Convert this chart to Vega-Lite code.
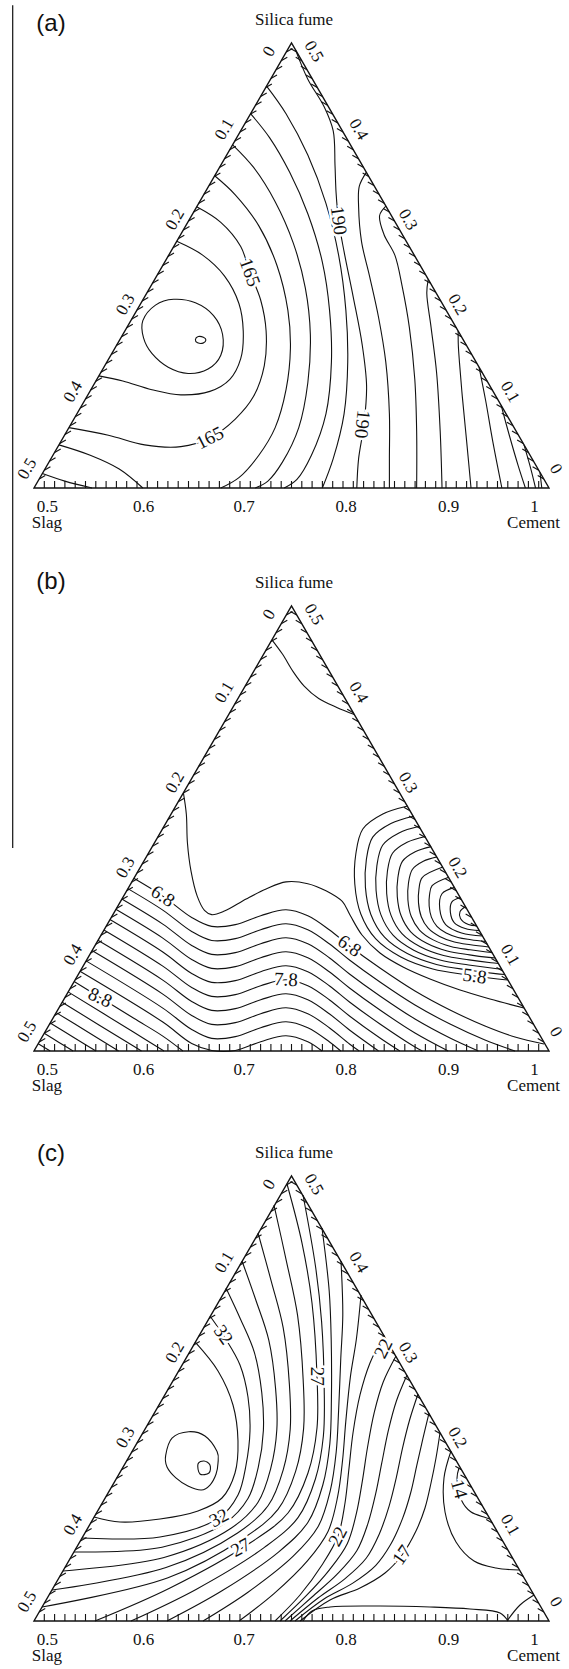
{
"$schema": "https://vega.github.io/schema/vega-lite/v6.json",
"padding": 0,
"spacing": 0,
"bounds": "flush",
"config": {"view": {"stroke": null}},
"datasets": {
"ed": [{"i":0,"x":0,"y":0},{"i":1,"x":1,"y":0},{"i":2,"x":0.5,"y":1}],
"tk": [
{"s":"b","x":0.02,"y":0},{"s":"b","x":0.04,"y":0},{"s":"b","x":0.06,"y":0},{"s":"b","x":0.08,"y":0},{"s":"b","x":0.1,"y":0},{"s":"b","x":0.12,"y":0},{"s":"b","x":0.14,"y":0},{"s":"b","x":0.16,"y":0},{"s":"b","x":0.18,"y":0},{"s":"b","x":0.2,"y":0},{"s":"b","x":0.22,"y":0},{"s":"b","x":0.24,"y":0},{"s":"b","x":0.26,"y":0},{"s":"b","x":0.28,"y":0},{"s":"b","x":0.3,"y":0},{"s":"b","x":0.32,"y":0},{"s":"b","x":0.34,"y":0},{"s":"b","x":0.36,"y":0},{"s":"b","x":0.38,"y":0},{"s":"b","x":0.4,"y":0},{"s":"b","x":0.42,"y":0},{"s":"b","x":0.44,"y":0},{"s":"b","x":0.46,"y":0},{"s":"b","x":0.48,"y":0},{"s":"b","x":0.5,"y":0},{"s":"b","x":0.52,"y":0},{"s":"b","x":0.54,"y":0},{"s":"b","x":0.56,"y":0},{"s":"b","x":0.58,"y":0},{"s":"b","x":0.6,"y":0},{"s":"b","x":0.62,"y":0},{"s":"b","x":0.64,"y":0},{"s":"b","x":0.66,"y":0},{"s":"b","x":0.68,"y":0},{"s":"b","x":0.7,"y":0},{"s":"b","x":0.72,"y":0},{"s":"b","x":0.74,"y":0},{"s":"b","x":0.76,"y":0},{"s":"b","x":0.78,"y":0},{"s":"b","x":0.8,"y":0},{"s":"b","x":0.82,"y":0},{"s":"b","x":0.84,"y":0},{"s":"b","x":0.86,"y":0},{"s":"b","x":0.88,"y":0},{"s":"b","x":0.9,"y":0},{"s":"b","x":0.92,"y":0},{"s":"b","x":0.94,"y":0},{"s":"b","x":0.96,"y":0},{"s":"b","x":0.98,"y":0},
{"s":"l","x":0.49,"y":0.98},{"s":"l","x":0.48,"y":0.96},{"s":"l","x":0.47,"y":0.94},{"s":"l","x":0.46,"y":0.92},{"s":"l","x":0.45,"y":0.9},{"s":"l","x":0.44,"y":0.88},{"s":"l","x":0.43,"y":0.86},{"s":"l","x":0.42,"y":0.84},{"s":"l","x":0.41,"y":0.82},{"s":"l","x":0.4,"y":0.8},{"s":"l","x":0.39,"y":0.78},{"s":"l","x":0.38,"y":0.76},{"s":"l","x":0.37,"y":0.74},{"s":"l","x":0.36,"y":0.72},{"s":"l","x":0.35,"y":0.7},{"s":"l","x":0.34,"y":0.68},{"s":"l","x":0.33,"y":0.66},{"s":"l","x":0.32,"y":0.64},{"s":"l","x":0.31,"y":0.62},{"s":"l","x":0.3,"y":0.6},{"s":"l","x":0.29,"y":0.58},{"s":"l","x":0.28,"y":0.56},{"s":"l","x":0.27,"y":0.54},{"s":"l","x":0.26,"y":0.52},{"s":"l","x":0.25,"y":0.5},{"s":"l","x":0.24,"y":0.48},{"s":"l","x":0.23,"y":0.46},{"s":"l","x":0.22,"y":0.44},{"s":"l","x":0.21,"y":0.42},{"s":"l","x":0.2,"y":0.4},{"s":"l","x":0.19,"y":0.38},{"s":"l","x":0.18,"y":0.36},{"s":"l","x":0.17,"y":0.34},{"s":"l","x":0.16,"y":0.32},{"s":"l","x":0.15,"y":0.3},{"s":"l","x":0.14,"y":0.28},{"s":"l","x":0.13,"y":0.26},{"s":"l","x":0.12,"y":0.24},{"s":"l","x":0.11,"y":0.22},{"s":"l","x":0.1,"y":0.2},{"s":"l","x":0.09,"y":0.18},{"s":"l","x":0.08,"y":0.16},{"s":"l","x":0.07,"y":0.14},{"s":"l","x":0.06,"y":0.12},{"s":"l","x":0.05,"y":0.1},{"s":"l","x":0.04,"y":0.08},{"s":"l","x":0.03,"y":0.06},{"s":"l","x":0.02,"y":0.04},{"s":"l","x":0.01,"y":0.02},
{"s":"r","x":0.99,"y":0.02},{"s":"r","x":0.98,"y":0.04},{"s":"r","x":0.97,"y":0.06},{"s":"r","x":0.96,"y":0.08},{"s":"r","x":0.95,"y":0.1},{"s":"r","x":0.94,"y":0.12},{"s":"r","x":0.93,"y":0.14},{"s":"r","x":0.92,"y":0.16},{"s":"r","x":0.91,"y":0.18},{"s":"r","x":0.9,"y":0.2},{"s":"r","x":0.89,"y":0.22},{"s":"r","x":0.88,"y":0.24},{"s":"r","x":0.87,"y":0.26},{"s":"r","x":0.86,"y":0.28},{"s":"r","x":0.85,"y":0.3},{"s":"r","x":0.84,"y":0.32},{"s":"r","x":0.83,"y":0.34},{"s":"r","x":0.82,"y":0.36},{"s":"r","x":0.81,"y":0.38},{"s":"r","x":0.8,"y":0.4},{"s":"r","x":0.79,"y":0.42},{"s":"r","x":0.78,"y":0.44},{"s":"r","x":0.77,"y":0.46},{"s":"r","x":0.76,"y":0.48},{"s":"r","x":0.75,"y":0.5},{"s":"r","x":0.74,"y":0.52},{"s":"r","x":0.73,"y":0.54},{"s":"r","x":0.72,"y":0.56},{"s":"r","x":0.71,"y":0.58},{"s":"r","x":0.7,"y":0.6},{"s":"r","x":0.69,"y":0.62},{"s":"r","x":0.68,"y":0.64},{"s":"r","x":0.67,"y":0.66},{"s":"r","x":0.66,"y":0.68},{"s":"r","x":0.65,"y":0.7},{"s":"r","x":0.64,"y":0.72},{"s":"r","x":0.63,"y":0.74},{"s":"r","x":0.62,"y":0.76},{"s":"r","x":0.61,"y":0.78},{"s":"r","x":0.6,"y":0.8},{"s":"r","x":0.59,"y":0.82},{"s":"r","x":0.58,"y":0.84},{"s":"r","x":0.57,"y":0.86},{"s":"r","x":0.56,"y":0.88},{"s":"r","x":0.55,"y":0.9},{"s":"r","x":0.54,"y":0.92},{"s":"r","x":0.53,"y":0.94},{"s":"r","x":0.52,"y":0.96},{"s":"r","x":0.51,"y":0.98}
],
"tl": [
{"s":"b","t":"0.5","x":0.026,"y":-0.055},{"s":"b","t":"0.6","x":0.213,"y":-0.055},{"s":"b","t":"0.7","x":0.408,"y":-0.055},{"s":"b","t":"0.8","x":0.606,"y":-0.055},{"s":"b","t":"0.9","x":0.805,"y":-0.055},{"s":"b","t":"1","x":0.972,"y":-0.055},
{"s":"l","t":"0","x":0.457,"y":0.981},{"s":"l","t":"0.1","x":0.37,"y":0.806},{"s":"l","t":"0.2","x":0.274,"y":0.603},{"s":"l","t":"0.3","x":0.178,"y":0.412},{"s":"l","t":"0.4","x":0.076,"y":0.216},{"s":"l","t":"0.5","x":-0.013,"y":0.043},
{"s":"r","t":"0.5","x":0.543,"y":0.981},{"s":"r","t":"0.4","x":0.63,"y":0.806},{"s":"r","t":"0.3","x":0.726,"y":0.603},{"s":"r","t":"0.2","x":0.822,"y":0.412},{"s":"r","t":"0.1","x":0.924,"y":0.216},{"s":"r","t":"0","x":1.013,"y":0.043}
],
"nm": [{"t":"Silica fume","x":0.505,"y":1.04},{"t":"Slag","x":0.025,"y":-0.091},{"t":"Cement","x":0.97,"y":-0.091}],
"al": [
{"c":"L3","i":0,"x":0.2771,"y":0.5543},{"c":"L3","i":1,"x":0.3275,"y":0.5233},{"c":"L3","i":2,"x":0.3697,"y":0.4767},{"c":"L3","i":3,"x":0.3979,"y":0.4147},{"c":"L3","i":4,"x":0.4063,"y":0.3527},{"c":"L3","i":5,"x":0.4014,"y":0.2907},{"c":"L3","i":6,"x":0.3803,"y":0.2442},{"c":"L3","i":7,"x":0.3415,"y":0.2171},{"c":"L3","i":8,"x":0.2852,"y":0.2093},{"c":"L3","i":9,"x":0.2289,"y":0.2209},{"c":"L3","i":10,"x":0.1725,"y":0.2403},{"c":"L3","i":11,"x":0.126,"y":0.2519},
{"c":"165","i":0,"x":0.3159,"y":0.6318},{"c":"165","i":1,"x":0.3627,"y":0.5969},{"c":"165","i":2,"x":0.4014,"y":0.5426},{"c":"165","i":3,"x":0.419,"y":0.4845},{"c":"165","i":4,"x":0.4401,"y":0.4225},{"c":"165","i":5,"x":0.4507,"y":0.3527},{"c":"165","i":6,"x":0.4472,"y":0.2752},{"c":"165","i":7,"x":0.4261,"y":0.2054},{"c":"165","i":8,"x":0.3908,"y":0.155},{"c":"165","i":9,"x":0.3415,"y":0.1124},{"c":"165","i":10,"x":0.2852,"y":0.093},{"c":"165","i":11,"x":0.2148,"y":0.0969},{"c":"165","i":12,"x":0.1444,"y":0.1186},{"c":"165","i":13,"x":0.0678,"y":0.1357},
{"c":"170","i":0,"x":0.3508,"y":0.7016},{"c":"170","i":1,"x":0.3908,"y":0.6589},{"c":"170","i":2,"x":0.4366,"y":0.5891},{"c":"170","i":3,"x":0.4718,"y":0.5},{"c":"170","i":4,"x":0.493,"y":0.3992},{"c":"170","i":5,"x":0.4979,"y":0.314},{"c":"170","i":6,"x":0.4894,"y":0.2209},{"c":"170","i":7,"x":0.4683,"y":0.1357},{"c":"170","i":8,"x":0.4366,"y":0.0736},{"c":"170","i":9,"x":0.3979,"y":0.0233},{"c":"170","i":10,"x":0.3627,"y":0},
{"c":"170b","i":0,"x":0.0484,"y":0.0969},{"c":"170b","i":1,"x":0.1092,"y":0.0736},{"c":"170b","i":2,"x":0.1655,"y":0.0426},{"c":"170b","i":3,"x":0.2113,"y":0},
{"c":"175b","i":0,"x":0.0163,"y":0.0326},{"c":"175b","i":1,"x":0.0599,"y":0.0155},{"c":"175b","i":2,"x":0.1127,"y":0},
{"c":"175","i":0,"x":0.3857,"y":0.7713},{"c":"175","i":1,"x":0.4261,"y":0.7209},{"c":"175","i":2,"x":0.4683,"y":0.6434},{"c":"175","i":3,"x":0.5035,"y":0.5504},{"c":"175","i":4,"x":0.5268,"y":0.4496},{"c":"175","i":5,"x":0.5366,"y":0.345},{"c":"175","i":6,"x":0.5317,"y":0.2364},{"c":"175","i":7,"x":0.5141,"y":0.1357},{"c":"175","i":8,"x":0.4824,"y":0.0581},{"c":"175","i":9,"x":0.4542,"y":0.0155},{"c":"175","i":10,"x":0.4296,"y":0},
{"c":"180","i":0,"x":0.4205,"y":0.8411},{"c":"180","i":1,"x":0.4577,"y":0.7868},{"c":"180","i":2,"x":0.4965,"y":0.7093},{"c":"180","i":3,"x":0.5317,"y":0.6163},{"c":"180","i":4,"x":0.5599,"y":0.5078},{"c":"180","i":5,"x":0.5739,"y":0.3992},{"c":"180","i":6,"x":0.5775,"y":0.2829},{"c":"180","i":7,"x":0.5669,"y":0.1667},{"c":"180","i":8,"x":0.5387,"y":0.0736},{"c":"180","i":9,"x":0.5106,"y":0.0194},{"c":"180","i":10,"x":0.4859,"y":0},
{"c":"185","i":0,"x":0.4516,"y":0.9031},{"c":"185","i":1,"x":0.4894,"y":0.8411},{"c":"185","i":2,"x":0.5317,"y":0.7481},{"c":"185","i":3,"x":0.5669,"y":0.6395},{"c":"185","i":4,"x":0.5915,"y":0.5233},{"c":"185","i":5,"x":0.6056,"y":0.3992},{"c":"185","i":6,"x":0.6092,"y":0.2829},{"c":"185","i":7,"x":0.6021,"y":0.1667},{"c":"185","i":8,"x":0.581,"y":0.0659},{"c":"185","i":9,"x":0.5599,"y":0},
{"c":"190","i":0,"x":0.5078,"y":0.9845},{"c":"190","i":1,"x":0.5317,"y":0.9186},{"c":"190","i":2,"x":0.5634,"y":0.8566},{"c":"190","i":3,"x":0.581,"y":0.8023},{"c":"190","i":4,"x":0.5845,"y":0.7248},{"c":"190","i":5,"x":0.5866,"y":0.6628},{"c":"190","i":6,"x":0.5915,"y":0.6008},{"c":"190","i":7,"x":0.6021,"y":0.531},{"c":"190","i":8,"x":0.6197,"y":0.4302},{"c":"190","i":9,"x":0.6373,"y":0.3217},{"c":"190","i":10,"x":0.6458,"y":0.2287},{"c":"190","i":11,"x":0.6408,"y":0.1434},{"c":"190","i":12,"x":0.6303,"y":0.0659},{"c":"190","i":13,"x":0.6268,"y":0},
{"c":"195","i":0,"x":0.6453,"y":0.7093},{"c":"195","i":1,"x":0.6317,"y":0.6783},{"c":"195","i":2,"x":0.6303,"y":0.6318},{"c":"195","i":3,"x":0.6359,"y":0.5543},{"c":"195","i":4,"x":0.6514,"y":0.4767},{"c":"195","i":5,"x":0.669,"y":0.3837},{"c":"195","i":6,"x":0.6831,"y":0.2829},{"c":"195","i":7,"x":0.6901,"y":0.1667},{"c":"195","i":8,"x":0.6901,"y":0.0659},{"c":"195","i":9,"x":0.6901,"y":0},
{"c":"200","i":0,"x":0.6833,"y":0.6333},{"c":"200","i":1,"x":0.6711,"y":0.6124},{"c":"200","i":2,"x":0.6796,"y":0.5698},{"c":"200","i":3,"x":0.7007,"y":0.5233},{"c":"200","i":4,"x":0.7148,"y":0.4535},{"c":"200","i":5,"x":0.7289,"y":0.3605},{"c":"200","i":6,"x":0.7394,"y":0.2442},{"c":"200","i":7,"x":0.743,"y":0.1279},{"c":"200","i":8,"x":0.743,"y":0},
{"c":"205","i":0,"x":0.7655,"y":0.469},{"c":"205","i":1,"x":0.7627,"y":0.438},{"c":"205","i":2,"x":0.7711,"y":0.3605},{"c":"205","i":3,"x":0.7817,"y":0.2597},{"c":"205","i":4,"x":0.7887,"y":0.1279},{"c":"205","i":5,"x":0.7923,"y":0},
{"c":"210","i":0,"x":0.8236,"y":0.3527},{"c":"210","i":1,"x":0.8239,"y":0.3217},{"c":"210","i":2,"x":0.8261,"y":0.2829},{"c":"210","i":3,"x":0.8317,"y":0.2054},{"c":"210","i":4,"x":0.8401,"y":0.1047},{"c":"210","i":5,"x":0.8486,"y":0},
{"c":"215","i":0,"x":0.8643,"y":0.2713},{"c":"215","i":1,"x":0.8768,"y":0.1977},{"c":"215","i":2,"x":0.8908,"y":0.1047},{"c":"215","i":3,"x":0.9085,"y":0},
{"c":"220","i":0,"x":0.907,"y":0.186},{"c":"220","i":1,"x":0.9225,"y":0.1202},{"c":"220","i":2,"x":0.9401,"y":0.0504},{"c":"220","i":3,"x":0.9542,"y":0},
{"c":"225","i":0,"x":0.9515,"y":0.0969},{"c":"225","i":1,"x":0.9648,"y":0.0426},{"c":"225","i":2,"x":0.9739,"y":0},
{"c":"230","i":0,"x":0.9825,"y":0.0349},{"c":"230","i":1,"x":0.9845,"y":0.015},{"c":"230","i":2,"x":0.986,"y":0}
],
"ao": [
{"c":"L1","i":0,"x":0.3134,"y":0.3333},{"c":"L1","i":1,"x":0.319,"y":0.3403},{"c":"L1","i":2,"x":0.3289,"y":0.3388},{"c":"L1","i":3,"x":0.3338,"y":0.3326},{"c":"L1","i":4,"x":0.3282,"y":0.3256},{"c":"L1","i":5,"x":0.3176,"y":0.3264},
{"c":"L2","i":0,"x":0.2113,"y":0.376},{"c":"L2","i":1,"x":0.2359,"y":0.4109},{"c":"L2","i":2,"x":0.2711,"y":0.424},{"c":"L2","i":3,"x":0.3134,"y":0.4163},{"c":"L2","i":4,"x":0.3486,"y":0.3876},{"c":"L2","i":5,"x":0.3662,"y":0.345},{"c":"L2","i":6,"x":0.3627,"y":0.2984},{"c":"L2","i":7,"x":0.338,"y":0.2674},{"c":"L2","i":8,"x":0.2993,"y":0.2574},{"c":"L2","i":9,"x":0.2606,"y":0.2713},{"c":"L2","i":10,"x":0.2289,"y":0.3023},{"c":"L2","i":11,"x":0.2127,"y":0.3372}
],
"bl": [
{"c":"t","i":0,"x":0.462,"y":0.924},{"c":"t","i":1,"x":0.4824,"y":0.892},{"c":"t","i":2,"x":0.5035,"y":0.852},{"c":"t","i":3,"x":0.5246,"y":0.82},{"c":"t","i":4,"x":0.5528,"y":0.792},{"c":"t","i":5,"x":0.588,"y":0.772},{"c":"t","i":6,"x":0.622,"y":0.756},
{"c":"L0","i":0,"x":0.2901,"y":0.58},{"c":"L0","i":1,"x":0.2958,"y":0.532},{"c":"L0","i":2,"x":0.2979,"y":0.468},{"c":"L0","i":3,"x":0.3049,"y":0.404},{"c":"L0","i":4,"x":0.3169,"y":0.348},{"c":"L0","i":5,"x":0.331,"y":0.316},{"c":"L0","i":6,"x":0.3451,"y":0.3064},{"c":"L0","i":7,"x":0.3697,"y":0.3144},{"c":"L0","i":8,"x":0.412,"y":0.3416},{"c":"L0","i":9,"x":0.4507,"y":0.364},{"c":"L0","i":10,"x":0.4894,"y":0.38},{"c":"L0","i":11,"x":0.5317,"y":0.376},{"c":"L0","i":12,"x":0.5669,"y":0.36},{"c":"L0","i":13,"x":0.5986,"y":0.336},{"c":"L0","i":14,"x":0.6136,"y":0.3056},{"c":"L0","i":15,"x":0.6369,"y":0.2607},{"c":"L0","i":16,"x":0.6718,"y":0.2202},{"c":"L0","i":17,"x":0.7165,"y":0.1888},{"c":"L0","i":18,"x":0.7689,"y":0.1618},{"c":"L0","i":19,"x":0.8272,"y":0.1371},{"c":"L0","i":20,"x":0.8854,"y":0.1169},{"c":"L0","i":21,"x":0.9515,"y":0.0966},
{"c":"f0","i":0,"x":0.1938,"y":0.3881},{"c":"f0","i":1,"x":0.2501,"y":0.3481},{"c":"f0","i":2,"x":0.3062,"y":0.3},{"c":"f0","i":3,"x":0.345,"y":0.28},{"c":"f0","i":4,"x":0.3909,"y":0.284},{"c":"f0","i":5,"x":0.4402,"y":0.304},{"c":"f0","i":6,"x":0.4893,"y":0.3175},{"c":"f0","i":7,"x":0.5317,"y":0.304},{"c":"f0","i":8,"x":0.574,"y":0.2719},{"c":"f0","i":9,"x":0.6126,"y":0.236},{"c":"f0","i":10,"x":0.6718,"y":0.1865},{"c":"f0","i":11,"x":0.7398,"y":0.1348},{"c":"f0","i":12,"x":0.8078,"y":0.0921},{"c":"f0","i":13,"x":0.8757,"y":0.0562},{"c":"f0","i":14,"x":0.934,"y":0.0315},{"c":"f0","i":15,"x":0.9903,"y":0.0157},
{"c":"f1","i":0,"x":0.1821,"y":0.3649},{"c":"f1","i":1,"x":0.2501,"y":0.3166},{"c":"f1","i":2,"x":0.3062,"y":0.2685},{"c":"f1","i":3,"x":0.345,"y":0.2485},{"c":"f1","i":4,"x":0.3909,"y":0.2525},{"c":"f1","i":5,"x":0.4402,"y":0.2725},{"c":"f1","i":6,"x":0.4893,"y":0.286},{"c":"f1","i":7,"x":0.5317,"y":0.2725},{"c":"f1","i":8,"x":0.574,"y":0.2404},{"c":"f1","i":9,"x":0.6126,"y":0.2045},{"c":"f1","i":10,"x":0.6718,"y":0.155},{"c":"f1","i":11,"x":0.7398,"y":0.1033},{"c":"f1","i":12,"x":0.8078,"y":0.0606},{"c":"f1","i":13,"x":0.8757,"y":0.0247},{"c":"f1","i":14,"x":0.934,"y":0},
{"c":"f2","i":0,"x":0.1705,"y":0.3416},{"c":"f2","i":1,"x":0.2501,"y":0.2852},{"c":"f2","i":2,"x":0.3062,"y":0.2371},{"c":"f2","i":3,"x":0.345,"y":0.2171},{"c":"f2","i":4,"x":0.3909,"y":0.2211},{"c":"f2","i":5,"x":0.4402,"y":0.2411},{"c":"f2","i":6,"x":0.4893,"y":0.2546},{"c":"f2","i":7,"x":0.5317,"y":0.2411},{"c":"f2","i":8,"x":0.574,"y":0.209},{"c":"f2","i":9,"x":0.6126,"y":0.1731},{"c":"f2","i":10,"x":0.6718,"y":0.1236},{"c":"f2","i":11,"x":0.7398,"y":0.0719},{"c":"f2","i":12,"x":0.8078,"y":0.0292},{"c":"f2","i":13,"x":0.8629,"y":0},
{"c":"f3","i":0,"x":0.1588,"y":0.3184},{"c":"f3","i":1,"x":0.2501,"y":0.2537},{"c":"f3","i":2,"x":0.3062,"y":0.2056},{"c":"f3","i":3,"x":0.345,"y":0.1856},{"c":"f3","i":4,"x":0.3909,"y":0.1896},{"c":"f3","i":5,"x":0.4402,"y":0.2096},{"c":"f3","i":6,"x":0.4893,"y":0.2231},{"c":"f3","i":7,"x":0.5317,"y":0.2096},{"c":"f3","i":8,"x":0.574,"y":0.1775},{"c":"f3","i":9,"x":0.6126,"y":0.1416},{"c":"f3","i":10,"x":0.6718,"y":0.0921},{"c":"f3","i":11,"x":0.7398,"y":0.0404},{"c":"f3","i":12,"x":0.8043,"y":0},
{"c":"f4","i":0,"x":0.1474,"y":0.2953},{"c":"f4","i":1,"x":0.2501,"y":0.2223},{"c":"f4","i":2,"x":0.3062,"y":0.1742},{"c":"f4","i":3,"x":0.345,"y":0.1542},{"c":"f4","i":4,"x":0.3909,"y":0.1582},{"c":"f4","i":5,"x":0.4402,"y":0.1782},{"c":"f4","i":6,"x":0.4893,"y":0.1917},{"c":"f4","i":7,"x":0.5317,"y":0.1782},{"c":"f4","i":8,"x":0.574,"y":0.1461},{"c":"f4","i":9,"x":0.6126,"y":0.1102},{"c":"f4","i":10,"x":0.6718,"y":0.0607},{"c":"f4","i":11,"x":0.7398,"y":0.009},{"c":"f4","i":12,"x":0.7542,"y":0},
{"c":"f5","i":0,"x":0.1357,"y":0.2721},{"c":"f5","i":1,"x":0.2501,"y":0.1908},{"c":"f5","i":2,"x":0.3062,"y":0.1427},{"c":"f5","i":3,"x":0.345,"y":0.1227},{"c":"f5","i":4,"x":0.3909,"y":0.1267},{"c":"f5","i":5,"x":0.4402,"y":0.1467},{"c":"f5","i":6,"x":0.4893,"y":0.1602},{"c":"f5","i":7,"x":0.5317,"y":0.1467},{"c":"f5","i":8,"x":0.574,"y":0.1146},{"c":"f5","i":9,"x":0.6126,"y":0.0787},{"c":"f5","i":10,"x":0.6718,"y":0.0292},{"c":"f5","i":11,"x":0.7103,"y":0},
{"c":"f6","i":0,"x":0.1241,"y":0.2488},{"c":"f6","i":1,"x":0.2501,"y":0.1593},{"c":"f6","i":2,"x":0.3062,"y":0.1112},{"c":"f6","i":3,"x":0.345,"y":0.0912},{"c":"f6","i":4,"x":0.3909,"y":0.0952},{"c":"f6","i":5,"x":0.4402,"y":0.1152},{"c":"f6","i":6,"x":0.4893,"y":0.1287},{"c":"f6","i":7,"x":0.5317,"y":0.1152},{"c":"f6","i":8,"x":0.574,"y":0.0831},{"c":"f6","i":9,"x":0.6126,"y":0.0472},{"c":"f6","i":10,"x":0.6691,"y":0},
{"c":"f7","i":0,"x":0.1126,"y":0.2258},{"c":"f7","i":1,"x":0.2501,"y":0.1279},{"c":"f7","i":2,"x":0.3062,"y":0.0798},{"c":"f7","i":3,"x":0.345,"y":0.0598},{"c":"f7","i":4,"x":0.3909,"y":0.0638},{"c":"f7","i":5,"x":0.4402,"y":0.0838},{"c":"f7","i":6,"x":0.4893,"y":0.0973},{"c":"f7","i":7,"x":0.5317,"y":0.0838},{"c":"f7","i":8,"x":0.574,"y":0.0517},{"c":"f7","i":9,"x":0.6126,"y":0.0158},{"c":"f7","i":10,"x":0.6315,"y":0},
{"c":"f8","i":0,"x":0.101,"y":0.2025},{"c":"f8","i":1,"x":0.2501,"y":0.0964},{"c":"f8","i":2,"x":0.3062,"y":0.0483},{"c":"f8","i":3,"x":0.345,"y":0.0283},{"c":"f8","i":4,"x":0.3909,"y":0.0323},{"c":"f8","i":5,"x":0.4402,"y":0.0523},{"c":"f8","i":6,"x":0.4893,"y":0.0658},{"c":"f8","i":7,"x":0.5317,"y":0.0523},{"c":"f8","i":8,"x":0.574,"y":0.0202},{"c":"f8","i":9,"x":0.5957,"y":0},
{"c":"f9","i":0,"x":0.0893,"y":0.1791},{"c":"f9","i":1,"x":0.2501,"y":0.065},{"c":"f9","i":2,"x":0.3062,"y":0.0169},{"c":"f9","i":3,"x":0.345,"y":0.0012},{"c":"f9","i":4,"x":0.3909,"y":0.0012},{"c":"f9","i":5,"x":0.4402,"y":0.0209},{"c":"f9","i":6,"x":0.4893,"y":0.0344},{"c":"f9","i":7,"x":0.5317,"y":0.0209},{"c":"f9","i":8,"x":0.5592,"y":0},
{"c":"f10","i":0,"x":0.0779,"y":0.156},{"c":"f10","i":1,"x":0.1938,"y":0.0735},{"c":"f10","i":2,"x":0.2501,"y":0.0335},{"c":"f10","i":3,"x":0.2891,"y":0},
{"c":"f11","i":0,"x":0.0662,"y":0.1328},{"c":"f11","i":1,"x":0.1938,"y":0.042},{"c":"f11","i":2,"x":0.2524,"y":0},
{"c":"f12","i":0,"x":0.0546,"y":0.1094},{"c":"f12","i":1,"x":0.1938,"y":0.0106},{"c":"f12","i":2,"x":0.2087,"y":0},
{"c":"f13","i":0,"x":0.0431,"y":0.0863},{"c":"f13","i":1,"x":0.1029,"y":0.0438},{"c":"f13","i":2,"x":0.1643,"y":0},
{"c":"f14","i":0,"x":0.0315,"y":0.0629},{"c":"f14","i":1,"x":0.0757,"y":0.0315},{"c":"f14","i":2,"x":0.1202,"y":0},
{"c":"f15","i":0,"x":0.0198,"y":0.0398},{"c":"f15","i":1,"x":0.0478,"y":0.0198},{"c":"f15","i":2,"x":0.0759,"y":0},
{"c":"f16","i":0,"x":0.0082,"y":0.0164},{"c":"f16","i":1,"x":0.0315,"y":0},
{"c":"n1","i":0,"x":0.7258,"y":0.5506},{"c":"n1","i":1,"x":0.6773,"y":0.5326},{"c":"n1","i":2,"x":0.6385,"y":0.4989},{"c":"n1","i":3,"x":0.6249,"y":0.4427},{"c":"n1","i":4,"x":0.6229,"y":0.3753},{"c":"n1","i":5,"x":0.6346,"y":0.3079},{"c":"n1","i":6,"x":0.6637,"y":0.2517},{"c":"n1","i":7,"x":0.7122,"y":0.2112},{"c":"n1","i":8,"x":0.7744,"y":0.1843},{"c":"n1","i":9,"x":0.8423,"y":0.1708},{"c":"n1","i":10,"x":0.9006,"y":0.1618},{"c":"n1","i":11,"x":0.92,"y":0.1596},
{"c":"n2","i":0,"x":0.7372,"y":0.5277},{"c":"n2","i":1,"x":0.693,"y":0.5114},{"c":"n2","i":2,"x":0.6577,"y":0.4807},{"c":"n2","i":3,"x":0.6453,"y":0.4296},{"c":"n2","i":4,"x":0.6435,"y":0.3682},{"c":"n2","i":5,"x":0.6541,"y":0.3069},{"c":"n2","i":6,"x":0.6806,"y":0.2557},{"c":"n2","i":7,"x":0.7248,"y":0.2189},{"c":"n2","i":8,"x":0.7814,"y":0.1944},{"c":"n2","i":9,"x":0.8432,"y":0.1821},{"c":"n2","i":10,"x":0.8962,"y":0.1739},{"c":"n2","i":11,"x":0.9139,"y":0.1719},
{"c":"n3","i":0,"x":0.7486,"y":0.5049},{"c":"n3","i":1,"x":0.7087,"y":0.4901},{"c":"n3","i":2,"x":0.6769,"y":0.4625},{"c":"n3","i":3,"x":0.6658,"y":0.4164},{"c":"n3","i":4,"x":0.6642,"y":0.3611},{"c":"n3","i":5,"x":0.6737,"y":0.3059},{"c":"n3","i":6,"x":0.6976,"y":0.2598},{"c":"n3","i":7,"x":0.7374,"y":0.2266},{"c":"n3","i":8,"x":0.7884,"y":0.2045},{"c":"n3","i":9,"x":0.8441,"y":0.1934},{"c":"n3","i":10,"x":0.8918,"y":0.1861},{"c":"n3","i":11,"x":0.9078,"y":0.1842},
{"c":"n4","i":0,"x":0.7599,"y":0.482},{"c":"n4","i":1,"x":0.7245,"y":0.4689},{"c":"n4","i":2,"x":0.6961,"y":0.4443},{"c":"n4","i":3,"x":0.6862,"y":0.4033},{"c":"n4","i":4,"x":0.6848,"y":0.354},{"c":"n4","i":5,"x":0.6933,"y":0.3048},{"c":"n4","i":6,"x":0.7145,"y":0.2638},{"c":"n4","i":7,"x":0.75,"y":0.2343},{"c":"n4","i":8,"x":0.7953,"y":0.2146},{"c":"n4","i":9,"x":0.845,"y":0.2048},{"c":"n4","i":10,"x":0.8875,"y":0.1982},{"c":"n4","i":11,"x":0.9017,"y":0.1966},
{"c":"n5","i":0,"x":0.7713,"y":0.4592},{"c":"n5","i":1,"x":0.7402,"y":0.4476},{"c":"n5","i":2,"x":0.7153,"y":0.4261},{"c":"n5","i":3,"x":0.7066,"y":0.3901},{"c":"n5","i":4,"x":0.7054,"y":0.347},{"c":"n5","i":5,"x":0.7129,"y":0.3038},{"c":"n5","i":6,"x":0.7315,"y":0.2679},{"c":"n5","i":7,"x":0.7626,"y":0.242},{"c":"n5","i":8,"x":0.8023,"y":0.2247},{"c":"n5","i":9,"x":0.8458,"y":0.2161},{"c":"n5","i":10,"x":0.8831,"y":0.2103},{"c":"n5","i":11,"x":0.8955,"y":0.2089},
{"c":"n6","i":0,"x":0.7826,"y":0.4363},{"c":"n6","i":1,"x":0.7559,"y":0.4264},{"c":"n6","i":2,"x":0.7346,"y":0.4079},{"c":"n6","i":3,"x":0.7271,"y":0.377},{"c":"n6","i":4,"x":0.726,"y":0.3399},{"c":"n6","i":5,"x":0.7324,"y":0.3028},{"c":"n6","i":6,"x":0.7485,"y":0.2719},{"c":"n6","i":7,"x":0.7751,"y":0.2497},{"c":"n6","i":8,"x":0.8093,"y":0.2348},{"c":"n6","i":9,"x":0.8467,"y":0.2274},{"c":"n6","i":10,"x":0.8787,"y":0.2225},{"c":"n6","i":11,"x":0.8894,"y":0.2212},
{"c":"n7","i":0,"x":0.794,"y":0.4134},{"c":"n7","i":1,"x":0.7538,"y":0.3897},{"c":"n7","i":2,"x":0.7475,"y":0.3638},{"c":"n7","i":3,"x":0.7466,"y":0.3328},{"c":"n7","i":4,"x":0.752,"y":0.3018},{"c":"n7","i":5,"x":0.7654,"y":0.276},{"c":"n7","i":6,"x":0.7877,"y":0.2574},{"c":"n7","i":7,"x":0.8163,"y":0.2449},{"c":"n7","i":8,"x":0.8476,"y":0.2387},{"c":"n7","i":9,"x":0.8833,"y":0.2336},
{"c":"n8","i":0,"x":0.8053,"y":0.3906},{"c":"n8","i":1,"x":0.773,"y":0.3715},{"c":"n8","i":2,"x":0.768,"y":0.3507},{"c":"n8","i":3,"x":0.7673,"y":0.3257},{"c":"n8","i":4,"x":0.7716,"y":0.3008},{"c":"n8","i":5,"x":0.7824,"y":0.28},{"c":"n8","i":6,"x":0.8003,"y":0.265},{"c":"n8","i":7,"x":0.8233,"y":0.2551},{"c":"n8","i":8,"x":0.8485,"y":0.2501},{"c":"n8","i":9,"x":0.8772,"y":0.2459},
{"c":"n9","i":0,"x":0.8167,"y":0.3677},{"c":"n9","i":1,"x":0.7922,"y":0.3533},{"c":"n9","i":2,"x":0.7879,"y":0.3187},{"c":"n9","i":3,"x":0.7993,"y":0.2841},{"c":"n9","i":4,"x":0.8303,"y":0.2652},{"c":"n9","i":5,"x":0.8711,"y":0.2583},
{"c":"n10","i":0,"x":0.8281,"y":0.3449},{"c":"n10","i":1,"x":0.8115,"y":0.3351},{"c":"n10","i":2,"x":0.8085,"y":0.3116},{"c":"n10","i":3,"x":0.8163,"y":0.2881},{"c":"n10","i":4,"x":0.8373,"y":0.2753},{"c":"n10","i":5,"x":0.865,"y":0.2706},
{"c":"n11","i":0,"x":0.8382,"y":0.3246},{"c":"n11","i":1,"x":0.8271,"y":0.3127},{"c":"n11","i":2,"x":0.8281,"y":0.2979},{"c":"n11","i":3,"x":0.8435,"y":0.2843},{"c":"n11","i":4,"x":0.8595,"y":0.2816}
],
"cl": [
{"c":"u33","i":0,"x":0.3126,"y":0.627},{"c":"u33","i":1,"x":0.3573,"y":0.5618},{"c":"u33","i":2,"x":0.3864,"y":0.4854},{"c":"u33","i":3,"x":0.3961,"y":0.4045},{"c":"u33","i":4,"x":0.3903,"y":0.3326},{"c":"u33","i":5,"x":0.365,"y":0.2764},{"c":"u33","i":6,"x":0.3184,"y":0.2472},{"c":"u33","i":7,"x":0.2447,"y":0.2292},{"c":"u33","i":8,"x":0.167,"y":0.2225},{"c":"u33","i":9,"x":0.1165,"y":0.2337},
{"c":"32","i":0,"x":0.3417,"y":0.6854},{"c":"32","i":1,"x":0.3709,"y":0.636},{"c":"32","i":2,"x":0.4,"y":0.5753},{"c":"32","i":3,"x":0.4155,"y":0.5034},{"c":"32","i":4,"x":0.4194,"y":0.427},{"c":"32","i":5,"x":0.4117,"y":0.3506},{"c":"32","i":6,"x":0.3961,"y":0.2831},{"c":"32","i":7,"x":0.3592,"y":0.2315},{"c":"32","i":8,"x":0.2447,"y":0.1888},{"c":"32","i":9,"x":0.0932,"y":0.1865},
{"c":"31","i":0,"x":0.3728,"y":0.7483},{"c":"31","i":1,"x":0.4008,"y":0.6787},{"c":"31","i":2,"x":0.428,"y":0.6031},{"c":"31","i":3,"x":0.4423,"y":0.5128},{"c":"31","i":4,"x":0.4454,"y":0.4283},{"c":"31","i":5,"x":0.4357,"y":0.347},{"c":"31","i":6,"x":0.4155,"y":0.2751},{"c":"31","i":7,"x":0.3713,"y":0.2202},{"c":"31","i":8,"x":0.2485,"y":0.1658},{"c":"31","i":9,"x":0.0777,"y":0.1551},
{"c":"30","i":0,"x":0.4039,"y":0.809},{"c":"30","i":1,"x":0.4307,"y":0.7213},{"c":"30","i":2,"x":0.4559,"y":0.631},{"c":"30","i":3,"x":0.4691,"y":0.5222},{"c":"30","i":4,"x":0.4715,"y":0.4297},{"c":"30","i":5,"x":0.4598,"y":0.3434},{"c":"30","i":6,"x":0.435,"y":0.267},{"c":"30","i":7,"x":0.3833,"y":0.209},{"c":"30","i":8,"x":0.2524,"y":0.1429},{"c":"30","i":9,"x":0.0563,"y":0.1124},
{"c":"29","i":0,"x":0.435,"y":0.8719},{"c":"29","i":1,"x":0.4606,"y":0.764},{"c":"29","i":2,"x":0.4839,"y":0.6589},{"c":"29","i":3,"x":0.4959,"y":0.5317},{"c":"29","i":4,"x":0.4975,"y":0.431},{"c":"29","i":5,"x":0.4839,"y":0.3398},{"c":"29","i":6,"x":0.4544,"y":0.2589},{"c":"29","i":7,"x":0.3953,"y":0.1978},{"c":"29","i":8,"x":0.2563,"y":0.12},{"c":"29","i":9,"x":0.035,"y":0.0697},
{"c":"28","i":0,"x":0.466,"y":0.9348},{"c":"28","i":1,"x":0.4905,"y":0.8067},{"c":"28","i":2,"x":0.5118,"y":0.6867},{"c":"28","i":3,"x":0.5227,"y":0.5411},{"c":"28","i":4,"x":0.5235,"y":0.4324},{"c":"28","i":5,"x":0.508,"y":0.3362},{"c":"28","i":6,"x":0.4738,"y":0.2508},{"c":"28","i":7,"x":0.4074,"y":0.1865},{"c":"28","i":8,"x":0.2602,"y":0.0971},{"c":"28","i":9,"x":0.0155,"y":0.0315},
{"c":"27","i":0,"x":0.4913,"y":0.982},{"c":"27","i":1,"x":0.5204,"y":0.8494},{"c":"27","i":2,"x":0.5398,"y":0.7146},{"c":"27","i":3,"x":0.5495,"y":0.5506},{"c":"27","i":4,"x":0.5495,"y":0.4337},{"c":"27","i":5,"x":0.532,"y":0.3326},{"c":"27","i":6,"x":0.4932,"y":0.2427},{"c":"27","i":7,"x":0.4194,"y":0.1753},{"c":"27","i":8,"x":0.2641,"y":0.0742},{"c":"27","i":9,"x":0.1184,"y":0},
{"c":"26","i":0,"x":0.5223,"y":0.9573},{"c":"26","i":1,"x":0.5468,"y":0.7955},{"c":"26","i":2,"x":0.5584,"y":0.6733},{"c":"26","i":3,"x":0.5635,"y":0.5249},{"c":"26","i":4,"x":0.5619,"y":0.4157},{"c":"26","i":5,"x":0.5464,"y":0.3191},{"c":"26","i":6,"x":0.5126,"y":0.2324},{"c":"26","i":7,"x":0.4474,"y":0.1654},{"c":"26","i":8,"x":0.3146,"y":0.071},{"c":"26","i":9,"x":0.1883,"y":0},
{"c":"25","i":0,"x":0.5592,"y":0.8831},{"c":"25","i":1,"x":0.5732,"y":0.7416},{"c":"25","i":2,"x":0.5771,"y":0.6319},{"c":"25","i":3,"x":0.5775,"y":0.4993},{"c":"25","i":4,"x":0.5744,"y":0.3978},{"c":"25","i":5,"x":0.5608,"y":0.3056},{"c":"25","i":6,"x":0.532,"y":0.222},{"c":"25","i":7,"x":0.4753,"y":0.1555},{"c":"25","i":8,"x":0.365,"y":0.0679},{"c":"25","i":9,"x":0.2583,"y":0},
{"c":"24","i":0,"x":0.5961,"y":0.809},{"c":"24","i":1,"x":0.5996,"y":0.6876},{"c":"24","i":2,"x":0.5957,"y":0.5906},{"c":"24","i":3,"x":0.5915,"y":0.4737},{"c":"24","i":4,"x":0.5868,"y":0.3798},{"c":"24","i":5,"x":0.5751,"y":0.2921},{"c":"24","i":6,"x":0.5515,"y":0.2117},{"c":"24","i":7,"x":0.5033,"y":0.1456},{"c":"24","i":8,"x":0.4155,"y":0.0647},{"c":"24","i":9,"x":0.3282,"y":0},
{"c":"23","i":0,"x":0.635,"y":0.7326},{"c":"23","i":1,"x":0.626,"y":0.6337},{"c":"23","i":2,"x":0.6144,"y":0.5492},{"c":"23","i":3,"x":0.6054,"y":0.4481},{"c":"23","i":4,"x":0.5992,"y":0.3618},{"c":"23","i":5,"x":0.5895,"y":0.2787},{"c":"23","i":6,"x":0.5709,"y":0.2013},{"c":"23","i":7,"x":0.5313,"y":0.1357},{"c":"23","i":8,"x":0.466,"y":0.0616},{"c":"23","i":9,"x":0.3981,"y":0},
{"c":"22","i":0,"x":0.6796,"y":0.6427},{"c":"22","i":1,"x":0.6524,"y":0.5798},{"c":"22","i":2,"x":0.633,"y":0.5079},{"c":"22","i":3,"x":0.6194,"y":0.4225},{"c":"22","i":4,"x":0.6117,"y":0.3438},{"c":"22","i":5,"x":0.6039,"y":0.2652},{"c":"22","i":6,"x":0.5903,"y":0.191},{"c":"22","i":7,"x":0.5592,"y":0.1258},{"c":"22","i":8,"x":0.5165,"y":0.0584},{"c":"22","i":9,"x":0.468,"y":0},
{"c":"21","i":0,"x":0.7029,"y":0.5955},{"c":"21","i":1,"x":0.6781,"y":0.5371},{"c":"21","i":2,"x":0.6606,"y":0.4683},{"c":"21","i":3,"x":0.6474,"y":0.3888},{"c":"21","i":4,"x":0.6377,"y":0.3155},{"c":"21","i":5,"x":0.626,"y":0.2418},{"c":"21","i":6,"x":0.6085,"y":0.1744},{"c":"21","i":7,"x":0.574,"y":0.1155},{"c":"21","i":8,"x":0.5282,"y":0.0562},{"c":"21","i":9,"x":0.4777,"y":0},
{"c":"20","i":0,"x":0.7243,"y":0.5528},{"c":"20","i":1,"x":0.7037,"y":0.4944},{"c":"20","i":2,"x":0.6882,"y":0.4288},{"c":"20","i":3,"x":0.6753,"y":0.3551},{"c":"20","i":4,"x":0.6637,"y":0.2872},{"c":"20","i":5,"x":0.6482,"y":0.2184},{"c":"20","i":6,"x":0.6268,"y":0.1578},{"c":"20","i":7,"x":0.5887,"y":0.1052},{"c":"20","i":8,"x":0.5398,"y":0.0539},{"c":"20","i":9,"x":0.4874,"y":0},
{"c":"19","i":0,"x":0.7456,"y":0.5101},{"c":"19","i":1,"x":0.7293,"y":0.4517},{"c":"19","i":2,"x":0.7157,"y":0.3892},{"c":"19","i":3,"x":0.7033,"y":0.3213},{"c":"19","i":4,"x":0.6897,"y":0.2589},{"c":"19","i":5,"x":0.6703,"y":0.1951},{"c":"19","i":6,"x":0.645,"y":0.1411},{"c":"19","i":7,"x":0.6035,"y":0.0948},{"c":"19","i":8,"x":0.5515,"y":0.0517},{"c":"19","i":9,"x":0.4971,"y":0},
{"c":"18","i":0,"x":0.767,"y":0.4674},{"c":"18","i":1,"x":0.755,"y":0.409},{"c":"18","i":2,"x":0.7433,"y":0.3497},{"c":"18","i":3,"x":0.7313,"y":0.2876},{"c":"18","i":4,"x":0.7157,"y":0.2306},{"c":"18","i":5,"x":0.6924,"y":0.1717},{"c":"18","i":6,"x":0.6633,"y":0.1245},{"c":"18","i":7,"x":0.6183,"y":0.0845},{"c":"18","i":8,"x":0.5631,"y":0.0494},{"c":"18","i":9,"x":0.5068,"y":0},
{"c":"17","i":0,"x":0.7883,"y":0.4225},{"c":"17","i":1,"x":0.7806,"y":0.3663},{"c":"17","i":2,"x":0.7709,"y":0.3101},{"c":"17","i":3,"x":0.7592,"y":0.2539},{"c":"17","i":4,"x":0.7417,"y":0.2022},{"c":"17","i":5,"x":0.7146,"y":0.1483},{"c":"17","i":6,"x":0.6816,"y":0.1079},{"c":"17","i":7,"x":0.633,"y":0.0742},{"c":"17","i":8,"x":0.5748,"y":0.0472},{"c":"17","i":9,"x":0.5165,"y":0},
{"c":"16","i":0,"x":0.5223,"y":0},{"c":"16","i":1,"x":0.5398,"y":0.0225},{"c":"16","i":2,"x":0.5748,"y":0.0315},{"c":"16","i":3,"x":0.6718,"y":0.0337},{"c":"16","i":4,"x":0.7689,"y":0.0315},{"c":"16","i":5,"x":0.8466,"y":0.027},{"c":"16","i":6,"x":0.9049,"y":0.018},{"c":"16","i":7,"x":0.9204,"y":0},
{"c":"15","i":0,"x":0.8097,"y":0.382},{"c":"15","i":1,"x":0.7961,"y":0.3213},{"c":"15","i":2,"x":0.7981,"y":0.2449},{"c":"15","i":3,"x":0.8194,"y":0.1775},{"c":"15","i":4,"x":0.8544,"y":0.1348},{"c":"15","i":5,"x":0.8971,"y":0.1191},{"c":"15","i":6,"x":0.9417,"y":0.1146},
{"c":"14","i":0,"x":0.8252,"y":0.3438},{"c":"14","i":1,"x":0.8214,"y":0.3213},{"c":"14","i":2,"x":0.8303,"y":0.2708},{"c":"14","i":3,"x":0.848,"y":0.2454},{"c":"14","i":4,"x":0.8763,"y":0.2326},{"c":"14","i":5,"x":0.8854,"y":0.2292},
{"c":"br","i":0,"x":0.9184,"y":0},{"c":"br","i":1,"x":0.9437,"y":0.036},{"c":"br","i":2,"x":0.9709,"y":0.0584}
],
"co": [
{"c":"ov","i":0,"x":0.2557,"y":0.3724},{"c":"ov","i":1,"x":0.268,"y":0.4112},{"c":"ov","i":2,"x":0.3004,"y":0.4254},{"c":"ov","i":3,"x":0.332,"y":0.4157},{"c":"ov","i":4,"x":0.3555,"y":0.3807},{"c":"ov","i":5,"x":0.3573,"y":0.3551},{"c":"ov","i":6,"x":0.3534,"y":0.3299},{"c":"ov","i":7,"x":0.3417,"y":0.3056},{"c":"ov","i":8,"x":0.325,"y":0.2944},{"c":"ov","i":9,"x":0.299,"y":0.3034},{"c":"ov","i":10,"x":0.2755,"y":0.3216},{"c":"ov","i":11,"x":0.2583,"y":0.3461},
{"c":"lp","i":0,"x":0.3184,"y":0.3528},{"c":"lp","i":1,"x":0.3301,"y":0.3596},{"c":"lp","i":2,"x":0.3417,"y":0.3506},{"c":"lp","i":3,"x":0.3398,"y":0.3326},{"c":"lp","i":4,"x":0.3223,"y":0.3303}
],
"la": [{"t":"165","x":0.419,"y":0.4845,"a":70},{"t":"165","x":0.3415,"y":0.1124,"a":-27},{"t":"190","x":0.5915,"y":0.6008,"a":82},{"t":"190","x":0.6373,"y":0.1434,"a":96}],
"lb": [{"t":"6.8","x":0.2501,"y":0.3481,"a":34},{"t":"6.8","x":0.6126,"y":0.236,"a":35},{"t":"7.8","x":0.4893,"y":0.1602,"a":3},{"t":"8.8","x":0.1282,"y":0.1202,"a":25},{"t":"5.8","x":0.8556,"y":0.168,"a":8}],
"lc": [{"t":"32","x":0.3675,"y":0.643,"a":55},{"t":"27","x":0.5498,"y":0.55,"a":90},{"t":"32","x":0.3592,"y":0.2315,"a":-28},{"t":"27","x":0.4014,"y":0.165,"a":-29},{"t":"22","x":0.59,"y":0.19,"a":-62},{"t":"17","x":0.7146,"y":0.1483,"a":-55},{"t":"14","x":0.8252,"y":0.2966,"a":75},{"t":"22","x":0.6784,"y":0.6125,"a":-63}]
},
"vconcat": [
{
"width": 569, "height": 540,
"encoding": {
"x": {"field":"x","type":"quantitative","axis":null,"scale":{"domain":[-0.0660194,1.038835],"nice":false,"zero":false}},
"y": {"field":"y","type":"quantitative","axis":null,"scale":{"domain":[-0.116854,1.096629],"nice":false,"zero":false}}
},
"layer": [
{"data":{"values":[{"x":-0.0414,"y":1.085,"y2":-0.116854}]},"mark":{"type":"rule","stroke":"#222","strokeWidth":1.3},"encoding":{"y2":{"field":"y2"}}},
{"data":{"name":"al"},"mark":{"type":"line","interpolate":"catmull-rom","stroke":"#111","strokeWidth":1.1},"encoding":{"detail":{"field":"c","type":"nominal"},"order":{"field":"i","type":"quantitative"}}},
{"data":{"name":"ao"},"mark":{"type":"line","interpolate":"cardinal-closed","stroke":"#111","strokeWidth":1.1},"encoding":{"detail":{"field":"c","type":"nominal"},"order":{"field":"i","type":"quantitative"}}},
{"data":{"name":"ed"},"mark":{"type":"line","interpolate":"linear-closed","stroke":"#111","strokeWidth":1.4},"encoding":{"order":{"field":"i","type":"quantitative"}}},
{"data":{"name":"tk"},"transform":[{"filter":"datum.s=='b'"}],"mark":{"type":"rule","stroke":"#111","strokeWidth":1.1,"y2Offset":-7},"encoding":{"x2":{"field":"x"},"y2":{"field":"y"}}},
{"data":{"name":"tk"},"transform":[{"filter":"datum.s=='l'"}],"mark":{"type":"rule","stroke":"#111","strokeWidth":1.1,"x2Offset":6.1,"y2Offset":-3.5},"encoding":{"x2":{"field":"x"},"y2":{"field":"y"}}},
{"data":{"name":"tk"},"transform":[{"filter":"datum.s=='r'"}],"mark":{"type":"rule","stroke":"#111","strokeWidth":1.1,"x2Offset":-6.1,"y2Offset":-3.5},"encoding":{"x2":{"field":"x"},"y2":{"field":"y"}}},
{"data":{"name":"tl"},"transform":[{"filter":"datum.s=='b'"}],"mark":{"type":"text","font":"Liberation Serif","fontSize":17,"baseline":"alphabetic","fill":"#111"},"encoding":{"text":{"field":"t"}}},
{"data":{"name":"tl"},"transform":[{"filter":"datum.s=='l'"}],"mark":{"type":"text","font":"Liberation Serif","fontSize":17,"baseline":"middle","angle":-60,"fill":"#111"},"encoding":{"text":{"field":"t"}}},
{"data":{"name":"tl"},"transform":[{"filter":"datum.s=='r'"}],"mark":{"type":"text","font":"Liberation Serif","fontSize":17,"baseline":"middle","angle":60,"fill":"#111"},"encoding":{"text":{"field":"t"}}},
{"data":{"name":"nm"},"mark":{"type":"text","font":"Liberation Serif","fontSize":17,"baseline":"alphabetic","fill":"#111"},"encoding":{"text":{"field":"t"}}},
{"data":{"name":"la"},"mark":{"type":"text","font":"Liberation Serif","fontSize":19,"baseline":"middle","fill":"white","stroke":"white","strokeWidth":5},"encoding":{"text":{"field":"t"},"angle":{"field":"a","type":"quantitative","scale":null}}},
{"data":{"name":"la"},"mark":{"type":"text","font":"Liberation Serif","fontSize":19,"baseline":"middle","fill":"#111"},"encoding":{"text":{"field":"t"},"angle":{"field":"a","type":"quantitative","scale":null}}},
{"data":{"values":[{"t":"(a)","x":0.033,"y":1.0438}]},"mark":{"type":"text","font":"Liberation Sans","fontSize":24,"baseline":"middle","fill":"#111"},"encoding":{"text":{"field":"t"}}}
]
},
{
"width": 569, "height": 560,
"encoding": {
"x": {"field":"x","type":"quantitative","axis":null,"scale":{"domain":[-0.0660194,1.038835],"nice":false,"zero":false}},
"y": {"field":"y","type":"quantitative","axis":null,"scale":{"domain":[-0.110112,1.148315],"nice":false,"zero":false}}
},
"layer": [
{"data":{"values":[{"x":-0.0414,"y":1.148315,"y2":0.456}]},"mark":{"type":"rule","stroke":"#222","strokeWidth":1.3},"encoding":{"y2":{"field":"y2"}}},
{"data":{"name":"bl"},"mark":{"type":"line","interpolate":"catmull-rom","stroke":"#111","strokeWidth":1.1},"encoding":{"detail":{"field":"c","type":"nominal"},"order":{"field":"i","type":"quantitative"}}},
{"data":{"name":"ed"},"mark":{"type":"line","interpolate":"linear-closed","stroke":"#111","strokeWidth":1.4},"encoding":{"order":{"field":"i","type":"quantitative"}}},
{"data":{"name":"tk"},"transform":[{"filter":"datum.s=='b'"}],"mark":{"type":"rule","stroke":"#111","strokeWidth":1.1,"y2Offset":-7},"encoding":{"x2":{"field":"x"},"y2":{"field":"y"}}},
{"data":{"name":"tk"},"transform":[{"filter":"datum.s=='l'"}],"mark":{"type":"rule","stroke":"#111","strokeWidth":1.1,"x2Offset":6.1,"y2Offset":-3.5},"encoding":{"x2":{"field":"x"},"y2":{"field":"y"}}},
{"data":{"name":"tk"},"transform":[{"filter":"datum.s=='r'"}],"mark":{"type":"rule","stroke":"#111","strokeWidth":1.1,"x2Offset":-6.1,"y2Offset":-3.5},"encoding":{"x2":{"field":"x"},"y2":{"field":"y"}}},
{"data":{"name":"tl"},"transform":[{"filter":"datum.s=='b'"}],"mark":{"type":"text","font":"Liberation Serif","fontSize":17,"baseline":"alphabetic","fill":"#111"},"encoding":{"text":{"field":"t"}}},
{"data":{"name":"tl"},"transform":[{"filter":"datum.s=='l'"}],"mark":{"type":"text","font":"Liberation Serif","fontSize":17,"baseline":"middle","angle":-60,"fill":"#111"},"encoding":{"text":{"field":"t"}}},
{"data":{"name":"tl"},"transform":[{"filter":"datum.s=='r'"}],"mark":{"type":"text","font":"Liberation Serif","fontSize":17,"baseline":"middle","angle":60,"fill":"#111"},"encoding":{"text":{"field":"t"}}},
{"data":{"name":"nm"},"mark":{"type":"text","font":"Liberation Serif","fontSize":17,"baseline":"alphabetic","fill":"#111"},"encoding":{"text":{"field":"t"}}},
{"data":{"name":"lb"},"mark":{"type":"text","font":"Liberation Serif","fontSize":19,"baseline":"middle","fill":"white","stroke":"white","strokeWidth":5},"encoding":{"text":{"field":"t"},"angle":{"field":"a","type":"quantitative","scale":null}}},
{"data":{"name":"lb"},"mark":{"type":"text","font":"Liberation Serif","fontSize":19,"baseline":"middle","fill":"#111"},"encoding":{"text":{"field":"t"},"angle":{"field":"a","type":"quantitative","scale":null}}},
{"data":{"values":[{"t":"(b)","x":0.033,"y":1.054}]},"mark":{"type":"text","font":"Liberation Sans","fontSize":24,"baseline":"middle","fill":"#111"},"encoding":{"text":{"field":"t"}}}
]
},
{
"width": 569, "height": 569,
"encoding": {
"x": {"field":"x","type":"quantitative","axis":null,"scale":{"domain":[-0.0660194,1.038835],"nice":false,"zero":false}},
"y": {"field":"y","type":"quantitative","axis":null,"scale":{"domain":[-0.107865,1.170787],"nice":false,"zero":false}}
},
"layer": [
{"data":{"name":"cl"},"mark":{"type":"line","interpolate":"catmull-rom","stroke":"#111","strokeWidth":1.1},"encoding":{"detail":{"field":"c","type":"nominal"},"order":{"field":"i","type":"quantitative"}}},
{"data":{"name":"co"},"mark":{"type":"line","interpolate":"cardinal-closed","stroke":"#111","strokeWidth":1.1},"encoding":{"detail":{"field":"c","type":"nominal"},"order":{"field":"i","type":"quantitative"}}},
{"data":{"name":"ed"},"mark":{"type":"line","interpolate":"linear-closed","stroke":"#111","strokeWidth":1.4},"encoding":{"order":{"field":"i","type":"quantitative"}}},
{"data":{"name":"tk"},"transform":[{"filter":"datum.s=='b'"}],"mark":{"type":"rule","stroke":"#111","strokeWidth":1.1,"y2Offset":-7},"encoding":{"x2":{"field":"x"},"y2":{"field":"y"}}},
{"data":{"name":"tk"},"transform":[{"filter":"datum.s=='l'"}],"mark":{"type":"rule","stroke":"#111","strokeWidth":1.1,"x2Offset":6.1,"y2Offset":-3.5},"encoding":{"x2":{"field":"x"},"y2":{"field":"y"}}},
{"data":{"name":"tk"},"transform":[{"filter":"datum.s=='r'"}],"mark":{"type":"rule","stroke":"#111","strokeWidth":1.1,"x2Offset":-6.1,"y2Offset":-3.5},"encoding":{"x2":{"field":"x"},"y2":{"field":"y"}}},
{"data":{"name":"tl"},"transform":[{"filter":"datum.s=='b'"}],"mark":{"type":"text","font":"Liberation Serif","fontSize":17,"baseline":"alphabetic","fill":"#111"},"encoding":{"text":{"field":"t"}}},
{"data":{"name":"tl"},"transform":[{"filter":"datum.s=='l'"}],"mark":{"type":"text","font":"Liberation Serif","fontSize":17,"baseline":"middle","angle":-60,"fill":"#111"},"encoding":{"text":{"field":"t"}}},
{"data":{"name":"tl"},"transform":[{"filter":"datum.s=='r'"}],"mark":{"type":"text","font":"Liberation Serif","fontSize":17,"baseline":"middle","angle":60,"fill":"#111"},"encoding":{"text":{"field":"t"}}},
{"data":{"name":"nm"},"mark":{"type":"text","font":"Liberation Serif","fontSize":17,"baseline":"alphabetic","fill":"#111"},"encoding":{"text":{"field":"t"}}},
{"data":{"name":"lc"},"mark":{"type":"text","font":"Liberation Serif","fontSize":19,"baseline":"middle","fill":"white","stroke":"white","strokeWidth":5},"encoding":{"text":{"field":"t"},"angle":{"field":"a","type":"quantitative","scale":null}}},
{"data":{"name":"lc"},"mark":{"type":"text","font":"Liberation Serif","fontSize":19,"baseline":"middle","fill":"#111"},"encoding":{"text":{"field":"t"},"angle":{"field":"a","type":"quantitative","scale":null}}},
{"data":{"values":[{"t":"(c)","x":0.033,"y":1.049}]},"mark":{"type":"text","font":"Liberation Sans","fontSize":24,"baseline":"middle","fill":"#111"},"encoding":{"text":{"field":"t"}}}
]
}
]
}
